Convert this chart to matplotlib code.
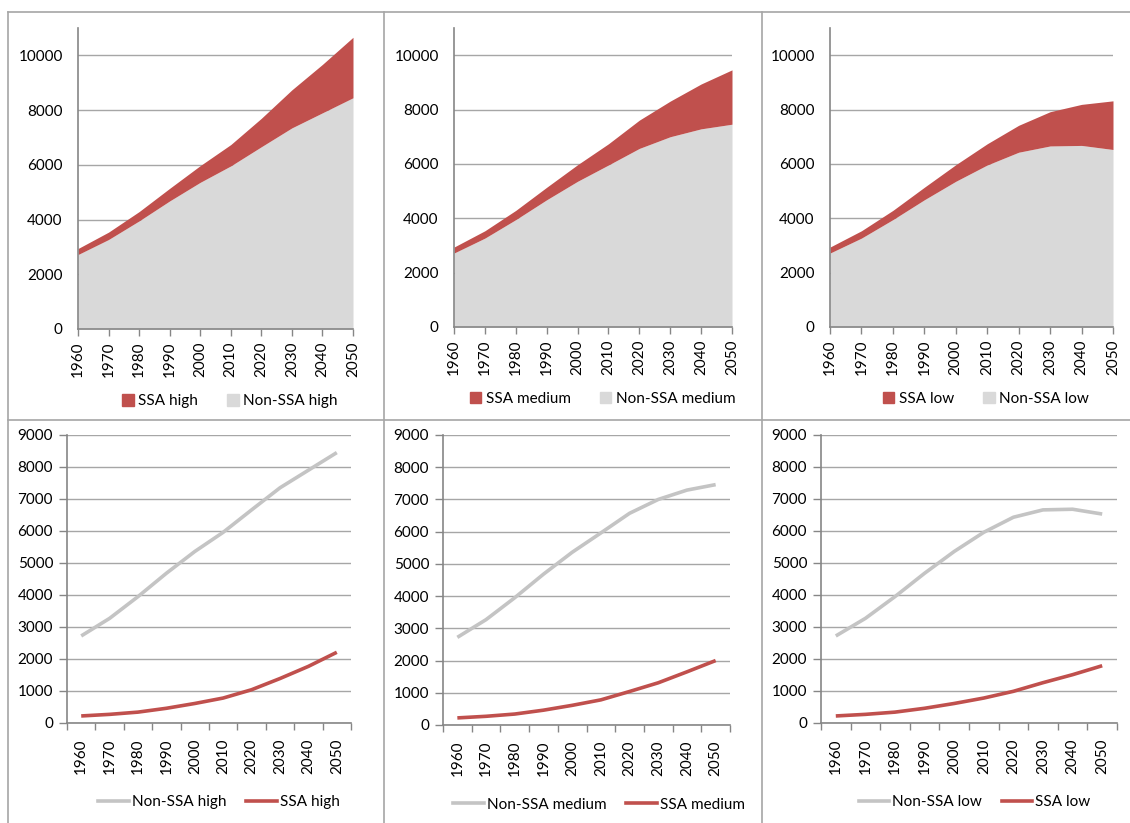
import numpy as np
import matplotlib
matplotlib.use("Agg")
import matplotlib.pyplot as plt
from matplotlib.lines import Line2D
from matplotlib.patches import Patch

plt.rcParams['font.family'] = ['Lato', 'DejaVu Sans']

years = ['1960', '1970', '1980', '1990', '2000', '2010', '2020', '2030', '2040', '2050']

non_ssa_high = [2720, 3270, 3950, 4680, 5360, 5960, 6660, 7350, 7900, 8450]
ssa_high = [220, 270, 340, 460, 610, 780, 1040, 1390, 1770, 2210]

non_ssa_medium = [2720, 3270, 3950, 4680, 5360, 5960, 6570, 7000, 7290, 7460]
ssa_medium = [220, 270, 340, 460, 610, 780, 1040, 1310, 1650, 2000]

non_ssa_low = [2720, 3270, 3950, 4680, 5360, 5960, 6430, 6660, 6680, 6530]
ssa_low = [220, 270, 340, 460, 610, 780, 990, 1260, 1510, 1790]

scenarios = ['high', 'medium', 'low']
non_ssa = [non_ssa_high, non_ssa_medium, non_ssa_low]
ssa = [ssa_high, ssa_medium, ssa_low]

RED = '#C0504D'
AREA_GREY = '#D9D9D9'
LINE_GREY = '#C4C4C4'
GRID = '#A6A6A6'
SPINE = '#868686'
BORDER = '#A6A6A6'
FS = 11
LFS = 11

W, H = 1130, 823
fig = plt.figure(figsize=(W / 100, H / 100), dpi=100)


def frac(x0, y_top, x1, y_bot):
    return [x0 / W, (H - y_bot) / H, (x1 - x0) / W, (y_bot - y_top) / H]


# panel frame lines
for xv in (8, 384, 762):
    fig.add_artist(Line2D([xv / W, xv / W], [0, (H - 12) / H], color=BORDER, lw=1.2))
for yv in (12, 420):
    fig.add_artist(Line2D([8 / W, 1], [(H - yv) / H, (H - yv) / H], color=BORDER, lw=1.2))

top_boxes = [(78, 28, 353, 329), (454, 28, 732, 327), (830, 28, 1113, 327)]
bot_boxes = [(67, 435, 351, 723), (443, 435, 730, 725), (821, 435, 1117, 723)]
top_legend_x = [0.553, 0.534, 0.551]
bot_legend_x = [0.535, 0.543, 0.519]


def style_axes(ax):
    for s in ('top', 'right'):
        ax.spines[s].set_visible(False)
    for s in ('left', 'bottom'):
        ax.spines[s].set_color(SPINE)
        ax.spines[s].set_linewidth(1.2)
    ax.yaxis.grid(True, color=GRID, lw=1.0)
    ax.set_axisbelow(True)
    ax.tick_params(axis='both', colors=SPINE, labelcolor='black', labelsize=FS,
                   direction='out', length=5, width=1.0)
    ax.tick_params(axis='x', labelrotation=90)


x = np.arange(len(years))

for i, sc in enumerate(scenarios):
    # stacked area chart
    ax = fig.add_axes(frac(*top_boxes[i]))
    ns = np.array(non_ssa[i])
    s = np.array(ssa[i])
    ax.fill_between(x, 0, ns, color=AREA_GREY, lw=0, zorder=2)
    ax.fill_between(x, ns, ns + s, color=RED, lw=0, zorder=2)
    ax.set_xlim(0, len(years) - 1)
    ax.set_ylim(0, 11000)
    ax.set_yticks(np.arange(0, 10001, 2000))
    ax.set_xticks(x)
    ax.set_xticklabels(years)
    style_axes(ax)
    ax.tick_params(axis='y', length=0, pad=11)
    ax.tick_params(axis='x', pad=4)
    h = [Patch(color=RED), Patch(color=AREA_GREY)]
    ax.legend(h, ['SSA ' + sc, 'Non-SSA ' + sc], loc='center',
              bbox_to_anchor=(top_legend_x[i], -0.24), ncol=2, frameon=False,
              fontsize=LFS, handlelength=0.75, handleheight=0.75,
              handletextpad=0.3, columnspacing=1.9)

    # line chart
    ax2 = fig.add_axes(frac(*bot_boxes[i]))
    ax2.plot(x, ns, color=LINE_GREY, lw=2.6, solid_capstyle='butt', zorder=3)
    ax2.plot(x, s, color=RED, lw=2.6, solid_capstyle='butt', zorder=3)
    ax2.set_xlim(-0.5, len(years) - 0.5)
    ax2.set_ylim(0, 9000)
    ax2.set_yticks(np.arange(0, 9001, 1000))
    ax2.set_xticks(x)
    ax2.set_xticklabels(years)
    ax2.set_xticks(np.arange(-0.5, len(years)), minor=True)
    style_axes(ax2)
    ax2.tick_params(axis='x', which='major', length=0, pad=11)
    ax2.tick_params(axis='x', which='minor', length=5, color=SPINE, width=1.0)
    ax2.tick_params(axis='y', length=6, pad=4)
    h2 = [Line2D([], [], color=LINE_GREY, lw=2.6), Line2D([], [], color=RED, lw=2.6)]
    ax2.legend(h2, ['Non-SSA ' + sc, 'SSA ' + sc], loc='center',
               bbox_to_anchor=(bot_legend_x[i], -0.275), ncol=2, frameon=False,
               fontsize=LFS, handlelength=2.0, handletextpad=0.2,
               columnspacing=1.3)

fig.savefig('out.png', dpi=100, facecolor='white')
